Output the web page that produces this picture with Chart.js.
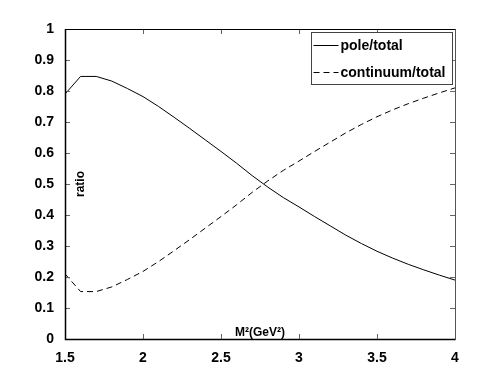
<!DOCTYPE html>
<html>
<head>
<meta charset="utf-8">
<script src="https://cdn.jsdelivr.net/npm/chart.js@4.4.1/dist/chart.umd.min.js"></script>
<style>
  body { margin: 0; background: #fff; }
  canvas { display: block; }
</style>
</head>
<body>
<canvas id="ratioChart" width="503" height="382"></canvas>
<script>
// M^2 values (GeV^2)
const m2 = [1.5, 1.6, 1.7, 1.8, 1.9, 2.0, 2.1, 2.2, 2.3, 2.4, 2.5, 2.6, 2.7,
            2.8, 2.9, 3.0, 3.1, 3.2, 3.3, 3.4, 3.5, 3.6, 3.7, 3.8, 3.9, 4.0];

const poleTotal = [0.790, 0.847, 0.847, 0.832, 0.808, 0.782, 0.750, 0.715, 0.679,
                   0.642, 0.605, 0.567, 0.527, 0.490, 0.456, 0.426, 0.395, 0.365,
                   0.335, 0.308, 0.283, 0.261, 0.241, 0.223, 0.206, 0.190];

const continuumTotal = [0.210, 0.153, 0.153, 0.168, 0.192, 0.218, 0.250, 0.285, 0.321,
                        0.358, 0.395, 0.433, 0.473, 0.510, 0.544, 0.574, 0.605, 0.635,
                        0.665, 0.692, 0.717, 0.739, 0.759, 0.777, 0.794, 0.810];

const seriesNames = ['pole/total', 'continuum/total'];
const xTitle = 'M\u00B2(GeV\u00B2)';
const yTitle = 'ratio';

const fontFamily = '"Liberation Sans", Arial, Helvetica, sans-serif';

function toPoints(ys) {
    return m2.map((x, i) => ({ x: x, y: ys[i] }));
}

// 1.0 -> "1", 2.50 -> "2.5"
function shortNum(v) {
    return String(Math.round(v * 100) / 100);
}

// box, inward ticks, titles and legend drawn MATLAB-style
const matlabFrame = {
    id: 'matlabFrame',
    afterDraw(chart) {
        const ctx = chart.ctx;
        const a = chart.chartArea;
        const xs = chart.scales.x, ys = chart.scales.y;
        ctx.save();

        // inner ticks
        ctx.strokeStyle = '#666';
        ctx.lineWidth = 1;
        ctx.beginPath();
        xs.ticks.forEach(t => {
            const px = Math.round(xs.getPixelForValue(t.value)) + 0.5;
            ctx.moveTo(px, a.bottom); ctx.lineTo(px, a.bottom - 5);
            ctx.moveTo(px, a.top); ctx.lineTo(px, a.top + 5);
        });
        ys.ticks.forEach(t => {
            const py = Math.round(ys.getPixelForValue(t.value)) + 0.5;
            ctx.moveTo(a.left, py); ctx.lineTo(a.left + 5, py);
            ctx.moveTo(a.right, py); ctx.lineTo(a.right - 5, py);
        });
        ctx.stroke();

        // axes box
        ctx.strokeStyle = '#000';
        ctx.beginPath();
        ctx.moveTo(a.left + 0.5, a.top + 0.5);
        ctx.lineTo(a.right + 0.5, a.top + 0.5);
        ctx.stroke();
        ctx.strokeStyle = '#555';
        ctx.beginPath();
        ctx.moveTo(a.right + 0.5, a.top + 0.5);
        ctx.lineTo(a.right + 0.5, a.bottom + 0.5);
        ctx.stroke();
        ctx.strokeStyle = '#000';
        ctx.lineWidth = 1.5;
        ctx.beginPath();
        ctx.moveTo(a.left + 0.5, a.top);
        ctx.lineTo(a.left + 0.5, a.bottom + 0.5);
        ctx.lineTo(a.right + 0.5, a.bottom + 0.5);
        ctx.stroke();

        // axis titles (inside the axes, as in the original)
        ctx.fillStyle = '#000';
        ctx.font = 'bold 12px ' + fontFamily;
        ctx.textAlign = 'center';
        ctx.textBaseline = 'alphabetic';
        ctx.fillText(xTitle, xs.getPixelForValue(2.75), a.bottom - 3);

        ctx.save();
        ctx.translate(a.left + 16, ys.getPixelForValue(0.5));
        ctx.rotate(-Math.PI / 2);
        ctx.textBaseline = 'middle';
        ctx.fillText(yTitle, 0, 0);
        ctx.restore();

        // legend
        const bx = 311.5, by = 32.5, bw = 141, bh = 52;
        ctx.fillStyle = '#fff';
        ctx.fillRect(bx, by, bw, bh);
        ctx.strokeStyle = '#444';
        ctx.lineWidth = 1;
        ctx.strokeRect(bx, by, bw, bh);
        ctx.font = 'bold 14px ' + fontFamily;
        ctx.textAlign = 'left';
        ctx.textBaseline = 'middle';
        chart.data.datasets.forEach((ds, i) => {
            const ly = 45.5 + i * 27;
            ctx.strokeStyle = '#000';
            ctx.setLineDash(ds.borderDash || []);
            ctx.beginPath();
            ctx.moveTo(bx + 2, ly);
            ctx.lineTo(bx + 27, ly);
            ctx.stroke();
            ctx.setLineDash([]);
            ctx.fillStyle = '#000';
            ctx.fillText(ds.label, bx + 29, ly + 1);
        });

        ctx.restore();
    }
};

new Chart(document.getElementById('ratioChart'), {
    type: 'line',
    data: {
        datasets: [{
            label: seriesNames[0],
            data: toPoints(poleTotal),
            borderColor: '#000',
            borderWidth: 1,
            pointRadius: 0,
            tension: 0,
            fill: false
        }, {
            label: seriesNames[1],
            data: toPoints(continuumTotal),
            borderColor: '#000',
            borderWidth: 1,
            borderDash: [6, 4],
            pointRadius: 0,
            tension: 0,
            fill: false
        }]
    },
    options: {
        responsive: false,
        animation: false,
        layout: { padding: { left: 0, top: 29, right: 48, bottom: 0 } },
        plugins: {
            legend: { display: false },
            tooltip: { enabled: false }
        },
        scales: {
            x: {
                type: 'linear',
                min: 1.5,
                max: 4,
                grid: { display: false },
                border: { display: false },
                ticks: {
                    stepSize: 0.5,
                    padding: 3,
                    color: '#000',
                    maxRotation: 0,
                    callback: shortNum,
                    font: { family: fontFamily, size: 14, weight: 'bold' }
                },
                afterFit(scale) { scale.height = 43; }
            },
            y: {
                min: 0,
                max: 1,
                grid: { display: false },
                border: { display: false },
                ticks: {
                    stepSize: 0.1,
                    padding: 3,
                    color: '#000',
                    callback: shortNum,
                    font: { family: fontFamily, size: 14, weight: 'bold' }
                },
                afterFit(scale) { scale.width = 65; }
            }
        }
    },
    plugins: [matlabFrame]
});
</script>
</body>
</html>
